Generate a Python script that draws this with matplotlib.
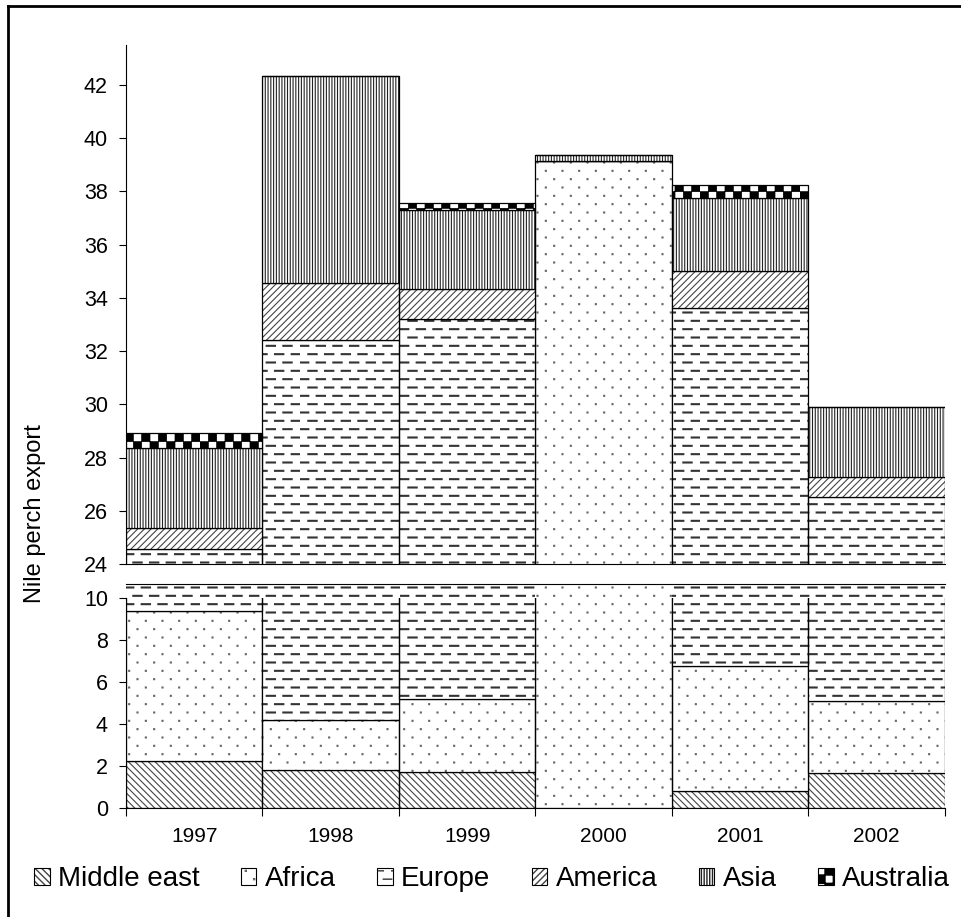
# Nile perch export by destination, stacked bars with a broken y axis

import numpy as np
import matplotlib
matplotlib.use('Agg')
import matplotlib.pyplot as plt
import matplotlib.hatch as mhatch
from matplotlib.path import Path
from matplotlib.patches import Patch, Rectangle
from matplotlib.lines import Line2D

# Data
years = ['1997', '1998', '1999', '2000', '2001', '2002']
middle_east = [2.25, 1.8, 1.7, 0.0, 0.8, 1.65]
africa = [7.15, 2.4, 3.5, 39.15, 5.95, 3.45]
europe = [15.15, 28.2, 28.0, 0.0, 26.85, 21.4]
america = [0.8, 2.15, 1.15, 0.0, 1.4, 0.75]
asia = [3.0, 7.8, 2.95, 0.22, 2.75, 2.65]
australia = [0.57, 0.0, 0.25, 0.0, 0.5, 0.0]

series_names = ['Middle east', 'Africa', 'Europe', 'America', 'Asia', 'Australia']
series_values = [middle_east, africa, europe, america, asia, australia]


# Custom hatches: dashed rows for '-', sparse staggered dots for '.', checker for 'O'
class DashHatch(mhatch.HatchPatternBase):
    def __init__(self, hatch, density):
        self.rows = 2 * density * hatch.count('-')
        self.cols = density
        self.num_vertices = self.rows * self.cols * 2

    def set_vertices_and_codes(self, vertices, codes):
        step = 1.0 / self.cols
        k = 0
        for r in range(self.rows):
            y = (r + 0.5) / self.rows
            for c in range(self.cols):
                x0 = (c + 0.5 * (r % 2)) * step
                vertices[k] = (x0, y)
                vertices[k + 1] = (x0 + 0.5 * step, y)
                codes[k] = Path.MOVETO
                codes[k + 1] = Path.LINETO
                k += 2


class DotHatch(mhatch.HatchPatternBase):
    def __init__(self, hatch, density):
        self.rows = 2 * density * hatch.count('.')
        self.cols = density
        self.num_vertices = self.rows * self.cols * 5

    def set_vertices_and_codes(self, vertices, codes):
        step = 1.0 / self.cols
        s = 0.005
        k = 0
        for r in range(self.rows):
            y = (r + 0.5) / self.rows
            for c in range(self.cols):
                x = (c + 0.25 + 0.5 * (r % 2)) * step
                vertices[k:k + 5] = [(x - s, y - s), (x + s, y - s), (x + s, y + s),
                                     (x - s, y + s), (x - s, y - s)]
                codes[k:k + 5] = [Path.MOVETO, Path.LINETO, Path.LINETO,
                                  Path.LINETO, Path.CLOSEPOLY]
                k += 5


class CheckerHatch(mhatch.HatchPatternBase):
    def __init__(self, hatch, density):
        self.n = 2 * density * hatch.count('O')
        self.num_vertices = (self.n * self.n // 2) * 5

    def set_vertices_and_codes(self, vertices, codes):
        d = 1.0 / self.n
        k = 0
        for r in range(self.n):
            for c in range(self.n):
                if (r + c) % 2:
                    continue
                x, y = c * d, r * d
                vertices[k:k + 5] = [(x, y), (x + d, y), (x + d, y + d), (x, y + d), (x, y)]
                codes[k:k + 5] = [Path.MOVETO, Path.LINETO, Path.LINETO,
                                  Path.LINETO, Path.CLOSEPOLY]
                k += 5


swap = {mhatch.HorizontalHatch: DashHatch,
        mhatch.SmallFilledCircles: DotHatch,
        mhatch.LargeCircles: CheckerHatch}
mhatch._hatch_types = [swap.get(h, h) for h in mhatch._hatch_types]

# hatch, hatch colour, hatch line width for each series
hatches = ['\\\\\\\\\\', '.', '-', '/////', '||||||', 'O']
hatch_colors = ['#444444', '#666666', '#333333', '#444444', '#222222', 'black']
hatch_widths = [0.8, 0.8, 1.5, 0.8, 0.8, 0.5]

plt.rcParams['font.family'] = ['Liberation Sans', 'DejaVu Sans']

fig = plt.figure(figsize=(9.61, 9.17), dpi=100)
ax_hi = fig.add_axes([0.1311, 0.3850, 0.8522, 0.5659])
ax_lo = fig.add_axes([0.1311, 0.1189, 0.8522, 0.2443])

x = np.arange(len(years))
clip_lo = Rectangle((-0.5, 0), 6, 10, transform=ax_lo.transData)

for ax in (ax_hi, ax_lo):
    bottom = np.zeros(len(years))
    for vals, h, hc, hw in zip(series_values, hatches, hatch_colors, hatch_widths):
        with plt.rc_context({'hatch.linewidth': hw}):
            ax.bar(x, vals, bottom=bottom, width=1.0, color='white',
                   edgecolor=hc, linewidth=0, hatch=h)
        outline = ax.bar(x, vals, bottom=bottom, width=1.0, fill=False,
                         edgecolor='black', linewidth=0.9)
        if ax is ax_lo:
            for b in outline:
                b.set_clip_path(clip_lo)
        bottom += np.array(vals)
    ax.set_xlim(-0.5, 5.5)
    ax.spines['right'].set_visible(False)
    ax.tick_params(axis='y', direction='out', length=5, width=0.8, labelsize=15.5, pad=8)

# upper part of the broken axis
ax_hi.set_ylim(24, 43.5)
ax_hi.set_yticks(np.arange(24, 43, 2))
ax_hi.spines['top'].set_visible(False)
ax_hi.set_xticks([])

# lower part
ax_lo.set_ylim(0, 10.67)
ax_lo.set_yticks(np.arange(0, 11, 2))
ax_lo.spines['left'].set_bounds(0, 10)
ax_lo.set_xticks(np.arange(-0.5, 6, 1))
ax_lo.set_xticklabels([])
ax_lo.set_xticks(x, minor=True)
ax_lo.set_xticklabels(years, minor=True)
ax_lo.tick_params(axis='x', which='major', direction='out', length=6, width=0.8)
ax_lo.tick_params(axis='x', which='minor', length=0, labelsize=15, pad=14)

fig.text(0.036, 1 - 514 / 917, 'Nile perch export', rotation=90,
         ha='center', va='center', fontsize=17)

# legend
handles = [(Patch(facecolor='white', edgecolor=hc, linewidth=0, hatch=h),
            Patch(fill=False, edgecolor='black', linewidth=0.8))
           for h, hc in zip(hatches, hatch_colors)]
fig.legend(handles, series_names, loc='center', bbox_to_anchor=(0.512, 0.041),
           ncol=6, frameon=False, fontsize=20, handlelength=0.55, handleheight=0.55,
           handletextpad=0.3, columnspacing=1.5)

# frame lines at the top and left of the picture
fig.add_artist(Line2D([8 / 961, 8 / 961], [0, 1 - 6 / 917], color='black', linewidth=2))
fig.add_artist(Line2D([8 / 961, 1], [1 - 6 / 917, 1 - 6 / 917], color='black', linewidth=2))

plt.savefig('out.png', dpi=100)
plt.close()
